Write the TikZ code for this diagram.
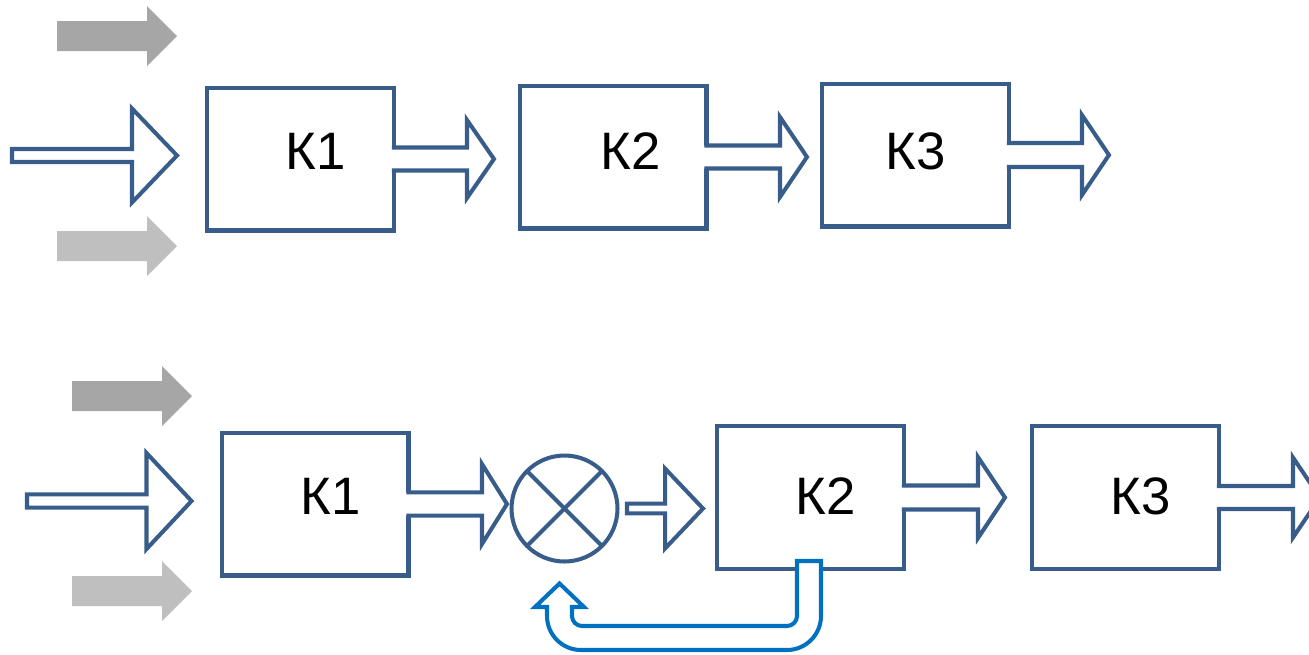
\documentclass[tikz,border=0pt]{standalone}
\usepackage{fontspec}
\setmainfont{Liberation Sans}
\usetikzlibrary{calc}

\definecolor{boxblue}{RGB}{56,93,138}
\definecolor{loopblue}{RGB}{0,112,192}
\definecolor{darkgrey}{RGB}{166,166,166}
\definecolor{lightgrey}{RGB}{191,191,191}

% open hollow arrow leaving a box: tail, tip, shaft half width, head half width, head length
\newcommand{\outarrow}[5]{%
	\fill[white] ($(#1)+(-3,-#3)$) -- ($(#2)+(-#5,-#3)$) -- ($(#2)+(-#5,-#4)$) -- (#2) -- ($(#2)+(-#5,#4)$) -- ($(#2)+(-#5,#3)$) -- ($(#1)+(-3,#3)$) -- cycle;
	\draw[flow] ($(#1)+(-2,-#3)$) -- ($(#2)+(-#5,-#3)$) -- ($(#2)+(-#5,-#4)$) -- (#2) -- ($(#2)+(-#5,#4)$) -- ($(#2)+(-#5,#3)$) -- ($(#1)+(-2,#3)$);
}
% closed hollow arrow
\newcommand{\inarrow}[5]{%
	\filldraw[flow, fill=white] ($(#1)+(0,-#3)$) -- ($(#2)+(-#5,-#3)$) -- ($(#2)+(-#5,-#4)$) -- (#2) -- ($(#2)+(-#5,#4)$) -- ($(#2)+(-#5,#3)$) -- ($(#1)+(0,#3)$) -- cycle;
}
% solid grey arrow
\newcommand{\sidearrow}[3]{%
	\fill[#3] ($(#1)+(0,-15)$) -- ($(#2)+(-30,-15)$) -- ($(#2)+(-30,-30)$) -- (#2) -- ($(#2)+(-30,30)$) -- ($(#2)+(-30,15)$) -- ($(#1)+(0,15)$) -- cycle;
}

\begin{document}
\begin{tikzpicture}[x=0.02cm, y=-0.02cm]
	\tikzstyle{box} = [rectangle, draw=boxblue, line width=2.3pt, fill=white, minimum width=3.74cm, minimum height=2.86cm, outer sep=0pt]
	\tikzstyle{mixer} = [circle, draw=boxblue, line width=2.3pt, minimum size=2.12cm, inner sep=0pt, outer sep=0pt]
	\tikzstyle{flow} = [draw=boxblue, line width=2.3pt, line join=miter]
	\tikzstyle{feedback} = [draw=loopblue, line width=2.3pt, fill=white, line join=miter]
	\tikzstyle{lbl} = [font=\fontsize{30}{36}\selectfont, inner sep=0pt]
	\useasboundingbox (0,0) rectangle (1309,654);
	\clip (0,0) rectangle (1309,654);
	% top chain
	\node (k1a) [box] at (300.5,159) {};
	\node (k2a) [box] at (613,157) {};
	\node (k3a) [box] at (915.5,155) {};
	% bottom chain
	\node (k1b) [box] at (315,504) {};
	\node (mix) [mixer] at (564.5,508.5) {};
	\node (k2b) [box] at (810.5,497.5) {};
	\node (k3b) [box] at (1125.5,497.5) {};
	\draw [flow] (mix.north west) -- (mix.south east);
	\draw [flow] (mix.north east) -- (mix.south west);
	% side inputs
	\coordinate (ga1) at (57,36);   \coordinate (ga1tip) at (177,36);
	\coordinate (ga2) at (57,246);  \coordinate (ga2tip) at (177,246);
	\coordinate (gb1) at (72,396);  \coordinate (gb1tip) at (192,396);
	\coordinate (gb2) at (72,591);  \coordinate (gb2tip) at (192,591);
	\sidearrow{ga1}{ga1tip}{darkgrey}
	\sidearrow{ga2}{ga2tip}{lightgrey}
	\sidearrow{gb1}{gb1tip}{darkgrey}
	\sidearrow{gb2}{gb2tip}{lightgrey}
	% main inputs
	\coordinate (ina) at (12,155.5);
	\coordinate (inatip) at ($(k1a.west |- ina)+(-30,0)$);
	\coordinate (inb) at (27,501);
	\coordinate (inbtip) at ($(k1b.west |- inb)+(-30,0)$);
	\inarrow{ina}{inatip}{6.5}{47}{45}
	\inarrow{inb}{inbtip}{6.7}{48}{45}
	% outputs
	\coordinate (e1a) at ($(k1a.east)+(100,0)$);
	\coordinate (e2a) at ($(k2a.east)+(100.5,0)$);
	\coordinate (e3a) at ($(k3a.east)+(100,0)$);
	\coordinate (e1b) at ($(k1b.east)+(98.5,0)$);
	\coordinate (e2b) at ($(k2b.east)+(101,0)$);
	\coordinate (e3b) at ($(k3b.east)+(101,0)$);
	\outarrow{k1a.east}{e1a}{11.5}{39}{27}
	\outarrow{k2a.east}{e2a}{11.5}{40}{27}
	\outarrow{k3a.east}{e3a}{12}{40}{27}
	\outarrow{k1b.east}{e1b}{11.7}{40}{25}
	\outarrow{k2b.east}{e2b}{12}{40.5}{27}
	\outarrow{k3b.east}{e3b}{11.5}{40}{27}
	\coordinate (mixout) at ($(mix.east)+(9.5,0)$);
	\coordinate (mixtip) at ($(k2b.west |- mix)+(-14,0)$);
	\inarrow{mixout}{mixtip}{4.8}{40}{38}
	% feedback loop
	\coordinate (fbtop) at ($(k2b.south)+(-1.5,-8)$);
	\coordinate (fbtip) at ($(mix.south)+(-5,22)$);
	\filldraw [feedback] ($(fbtop)+(-12,0)$) -- ($(fbtop)+(12,0)$) -- ($(fbtop)+(12,55)$)
		arc[start angle=0, end angle=90, radius=34] -- ($(fbtip |- fbtop)+(21.5,89)$)
		arc[start angle=90, end angle=180, radius=34] -- ($(fbtip)+(-12.5,23.5)$)
		-- ($(fbtip)+(-24.5,23.5)$) -- (fbtip) -- ($(fbtip)+(24.5,23.5)$) -- ($(fbtip)+(12.5,23.5)$)
		-- ($(fbtip |- fbtop)+(12.5,55)$)
		arc[start angle=180, end angle=90, radius=10] -- ($(fbtop)+(-22,65)$)
		arc[start angle=90, end angle=0, radius=10] -- cycle;
	% labels
	\node (t1a) [lbl] at ($(k1a)+(15,-8)$) {К1};
	\node (t2a) [lbl] at ($(k2a)+(18,-6)$) {К2};
	\node (t3a) [lbl] at ($(k3a)+(0,-4)$) {К3};
	\node (t1b) [lbl] at ($(k1b)+(16,-8)$) {К1};
	\node (t2b) [lbl] at ($(k2b)+(15,-1.5)$) {К2};
	\node (t3b) [lbl] at ($(k3b)+(15,-1.5)$) {К3};
\end{tikzpicture}
\end{document}
